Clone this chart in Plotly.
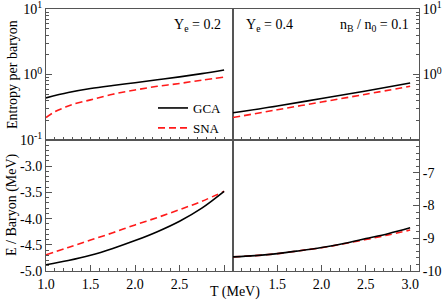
import plotly.graph_objects as go

# ---- data ----
T = [1.0, 1.25, 1.5, 1.75, 2.0, 2.25, 2.5, 2.75, 3.0]

# Entropy per baryon, Ye = 0.2
s_gca_02 = [0.44, 0.53, 0.61, 0.68, 0.75, 0.83, 0.92, 1.03, 1.17]
T_sna_02 = [1.0, 1.1, 1.2, 1.3, 1.5, 1.75, 2.0, 2.25, 2.5, 2.75, 3.0]
s_sna_02 = [0.22, 0.27, 0.31, 0.35, 0.41, 0.50, 0.58, 0.66, 0.73, 0.82, 0.91]

# Entropy per baryon, Ye = 0.4
T5 = [1.0, 1.5, 2.0, 2.5, 3.0]
s_gca_04 = [0.26, 0.33, 0.43, 0.56, 0.74]
s_sna_04 = [0.22, 0.29, 0.38, 0.50, 0.66]

# E / baryon (MeV), Ye = 0.2
e_gca_02 = [-4.88, -4.80, -4.70, -4.57, -4.42, -4.25, -4.05, -3.80, -3.48]
e_sna_02 = [-4.69, -4.55, -4.41, -4.27, -4.12, -3.98, -3.83, -3.67, -3.48]

# E / baryon (MeV), Ye = 0.4
e_gca_04 = [-9.57, -9.53, -9.47, -9.38, -9.28, -9.16, -9.01, -8.86, -8.68]
e_sna_04 = [-9.57, -9.53, -9.47, -9.38, -9.29, -9.17, -9.04, -8.90, -8.75]

log_major = [0.1, 1, 10]
log_major_text = ["10<sup>-1</sup>", "10<sup>0</sup>", "10<sup>1</sup>"]
log_minor = [v * m for m in (0.1, 1) for v in range(2, 10)]

FONT = "Liberation Serif"
FRAME = "#555555"
BLACK = "black"
RED = "#ff1a1a"
DASH = "7px,4px"

fig = go.Figure()

def add(x, y, xa, ya, color, dash, name, show):
    fig.add_trace(go.Scatter(
        x=x, y=y, xaxis=xa, yaxis=ya, mode="lines", name=name,
        line=dict(color=color, width=1.6, dash=dash, shape="spline"),
        showlegend=show, hoverinfo="skip"))

add(T, s_gca_02, "x3", "y3", BLACK, "solid", "GCA", True)
add(T_sna_02, s_sna_02, "x3", "y3", RED, DASH, "SNA", True)
add(T5, s_gca_04, "x4", "y4", BLACK, "solid", "GCA", False)
add(T5, s_sna_04, "x4", "y4", RED, DASH, "SNA", False)
add(T, e_sna_02, "x", "y", RED, DASH, "SNA", False)
add(T, e_gca_02, "x", "y", BLACK, "solid", "GCA", False)
add(T, e_sna_04, "x2", "y2", RED, DASH, "SNA", False)
add(T, e_gca_04, "x2", "y2", BLACK, "solid", "GCA", False)

W, H = 445, 300
xl = [46 / W, 233 / W]
xr = [233 / W, 419 / W]
yt = [1 - 140 / H, 1 - 9 / H]
yb = [1 - 271 / H, 1 - 140 / H]

tickfont = dict(family=FONT, size=14, color="black")

def xaxis(domain, anchor, text):
    return dict(domain=domain, anchor=anchor, range=[1.0, 3.1], automargin=False,
                showline=True, mirror=True, linecolor=FRAME, linewidth=1,
                showgrid=False, zeroline=False, ticklabeloverflow="allow",
                ticks="inside", ticklen=6, tickcolor=FRAME,
                tickvals=[1.0, 1.5, 2.0, 2.5, 3.0],
                ticktext=text if text else [""] * 5,
                showticklabels=bool(text), tickfont=tickfont,
                minor=dict(ticks="inside", ticklen=3, dtick=0.1, tick0=1.0,
                           tickcolor=FRAME, showgrid=False))

def yaxis(domain, anchor, side, rng, vals, text, minor, log=False):
    d = dict(domain=domain, anchor=anchor, side=side, range=rng, automargin=False,
             showline=True, mirror=True, linecolor=FRAME, linewidth=1,
             showgrid=False, zeroline=False, ticklabeloverflow="allow",
             ticks="inside", ticklen=6, tickcolor=FRAME,
             tickvals=vals, ticktext=text, tickfont=tickfont,
             minor=dict(ticks="inside", ticklen=3, tickcolor=FRAME,
                        showgrid=False, **minor))
    if log:
        d["type"] = "log"
    return d

fig.update_layout(
    width=W, height=H, margin=dict(l=0, r=0, t=0, b=0, autoexpand=False),
    paper_bgcolor="white", plot_bgcolor="white",
    font=dict(family=FONT, size=14, color="black"),
    xaxis=xaxis(xl, "y", ["1.0", "1.5", "2.0", "2.5", ""]),
    xaxis2=xaxis(xr, "y2", ["", "1.5", "2.0", "2.5", "3.0"]),
    xaxis3=xaxis(xl, "y3", None),
    xaxis4=xaxis(xr, "y4", None),
    yaxis=yaxis(yb, "x", "left", [-5.0, -2.5],
                [-5.0, -4.5, -4.0, -3.5, -3.0],
                ["-5.0", "-4.5", "-4.0", "-3.5", "-3.0"],
                dict(dtick=0.1, tick0=-5.0)),
    yaxis2=yaxis(yb, "x2", "right", [-10, -6], [-10, -9, -8, -7],
                 ["-10", "-9", "-8", "-7"], dict(dtick=0.2, tick0=-10)),
    yaxis3=yaxis(yt, "x3", "left", [-1.0001, 1.0001], log_major, log_major_text,
                 dict(tickvals=log_minor), log=True),
    yaxis4=yaxis(yt, "x4", "right", [-1.0001, 1.0001], log_major[1:],
                 log_major_text[1:], dict(tickvals=log_minor), log=True),
    legend=dict(x=153 / W, y=1 - 118 / H, xanchor="left", yanchor="middle",
                bgcolor="rgba(0,0,0,0)", font=dict(family=FONT, size=13),
                itemwidth=30, tracegroupgap=0),
    showlegend=True,
)

ann = dict(xref="paper", yref="paper", showarrow=False,
           font=dict(family=FONT, size=14, color="black"))
fig.add_annotation(text="Entropy per baryon", x=12 / W, y=1 - 75 / H,
                   textangle=-90, xanchor="center", yanchor="middle", **ann)
fig.add_annotation(text="E / Baryon (MeV)", x=12 / W, y=1 - 205 / H,
                   textangle=-90, xanchor="center", yanchor="middle", **ann)
fig.add_annotation(text="T (MeV)", x=235 / W, y=1 - 292 / H,
                   xanchor="center", yanchor="middle", **ann)
fig.add_annotation(text="Y<sub>e</sub> = 0.2", x=223 / W, y=1 - 25 / H,
                   xanchor="right", yanchor="middle", **ann)
fig.add_annotation(text="Y<sub>e</sub> = 0.4", x=244 / W, y=1 - 25 / H,
                   xanchor="left", yanchor="middle", **ann)
fig.add_annotation(text="n<sub>B</sub> / n<sub>0</sub> = 0.1", x=411 / W,
                   y=1 - 25 / H, xanchor="right", yanchor="middle", **ann)

fig.write_html("out.html", config={"displayModeBar": False},
               post_script="document.body.style.margin='0';"
                           "document.body.style.overflow='hidden';")
